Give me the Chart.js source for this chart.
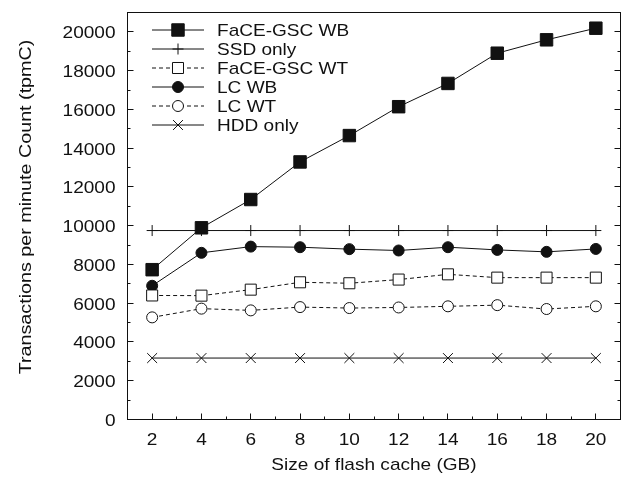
<!DOCTYPE html>
<html>
<head>
<meta charset="utf-8">
<title>tpmC vs flash cache size</title>
<script src="https://cdn.jsdelivr.net/npm/chart.js@4/dist/chart.umd.min.js"></script>
<style>
  html, body { margin: 0; padding: 0; background: #fff; }
  #wrap { width: 639px; height: 480px; }
</style>
</head>
<body>
<div id="wrap"><canvas id="tpmc-chart" width="639" height="480"></canvas></div>
<script>
// flash cache size in GB
const cacheSizes = [2, 4, 6, 8, 10, 12, 14, 16, 18, 20];

// throughput, tpmC
const faceGscWB = [7730, 9890, 11350, 13290, 14650, 16140, 17340, 18900, 19590, 20190];
const ssdOnly   = [9750, 9750, 9750, 9750, 9750, 9750, 9750, 9750, 9750, 9750];
const faceGscWT = [6400, 6390, 6700, 7080, 7030, 7220, 7490, 7320, 7320, 7320];
const lcWB      = [6900, 8600, 8920, 8890, 8790, 8720, 8890, 8750, 8650, 8800];
const lcWT      = [5270, 5720, 5630, 5800, 5750, 5780, 5840, 5900, 5700, 5840];
const hddOnly   = [3170, 3170, 3170, 3170, 3170, 3170, 3170, 3170, 3170, 3170];

const xTicks = [2, 4, 6, 8, 10, 12, 14, 16, 18, 20];
const yTicks = [0, 2000, 4000, 6000, 8000, 10000, 12000, 14000, 16000, 18000, 20000];

const ink = '#111';
const fontFamily = '"Liberation Sans", Arial, Helvetica, sans-serif';
const fontSize = 17;
const textStretch = 1.12;

function points(values) {
  return cacheSizes.map((x, i) => ({ x: x, y: values[i] }));
}

function series(label, values, style, radius, filled, dashed) {
  return {
    label: label,
    data: points(values),
    borderColor: ink,
    borderWidth: 1,
    borderDash: dashed ? [4, 3] : [],
    pointStyle: style,
    pointRadius: radius,
    pointHoverRadius: radius,
    pointBorderWidth: 1,
    pointBorderColor: ink,
    pointBackgroundColor: filled ? ink : '#fff',
    tension: 0,
    fill: false
  };
}

// horizontally widened text, gnuplot fonts run a bit wider than Arial
function wideText(ctx, str, x, y, align, stretch) {
  ctx.save();
  ctx.translate(x, y);
  ctx.scale(stretch || textStretch, 1);
  ctx.textAlign = align;
  ctx.textBaseline = 'alphabetic';
  ctx.fillText(str, 0, 0);
  ctx.restore();
}

function crisp(v) {
  return Math.round(v - 0.5) + 0.5;
}

// frame, inward ticks, tick labels and axis titles
const framePlugin = {
  id: 'frame',
  beforeDatasetsDraw(chart) {
    const ctx = chart.ctx;
    const a = chart.chartArea;
    const xs = chart.scales.x;
    const ys = chart.scales.y;
    ctx.save();
    ctx.strokeStyle = ink;
    ctx.lineWidth = 1;
    ctx.strokeRect(a.left, a.top, a.right - a.left, a.bottom - a.top);

    ctx.beginPath();
    yTicks.forEach((v, i) => {
      const y = crisp(ys.getPixelForValue(v));
      ctx.moveTo(a.left, y); ctx.lineTo(a.left + 6, y);
      ctx.moveTo(a.right, y); ctx.lineTo(a.right - 6, y);
      if (i < yTicks.length - 1) {
        const ym = crisp(ys.getPixelForValue((v + yTicks[i + 1]) / 2));
        ctx.moveTo(a.left, ym); ctx.lineTo(a.left + 3, ym);
        ctx.moveTo(a.right, ym); ctx.lineTo(a.right - 3, ym);
      }
    });
    xTicks.forEach((v, i) => {
      const x = crisp(xs.getPixelForValue(v));
      ctx.moveTo(x, a.bottom); ctx.lineTo(x, a.bottom - 6);
      if (i < xTicks.length - 1) {
        const xm = crisp(xs.getPixelForValue((v + xTicks[i + 1]) / 2));
        ctx.moveTo(xm, a.bottom); ctx.lineTo(xm, a.bottom - 3);
      }
    });
    ctx.stroke();

    ctx.fillStyle = ink;
    ctx.font = fontSize + 'px ' + fontFamily;
    yTicks.forEach(v => {
      wideText(ctx, String(v), a.left - 12, ys.getPixelForValue(v) + 6.5, 'right');
    });
    xTicks.forEach(v => {
      wideText(ctx, String(v), xs.getPixelForValue(v), a.bottom + 25.5, 'center');
    });

    wideText(ctx, 'Size of flash cache (GB)', (a.left + a.right) / 2, 470, 'center');

    ctx.save();
    ctx.translate(31, 207);
    ctx.rotate(-Math.PI / 2);
    wideText(ctx, 'Transactions per minute Count (tpmC)', 0, 0, 'center', 1.16);
    ctx.restore();
    ctx.restore();
  }
};

// key in the top-left corner with line sample and marker
const keyPlugin = {
  id: 'key',
  afterDatasetsDraw(chart) {
    const ctx = chart.ctx;
    ctx.save();
    chart.data.datasets.forEach((ds, i) => {
      const y = 30 + i * 19;
      ctx.strokeStyle = ink;
      ctx.lineWidth = 1;
      ctx.setLineDash(ds.borderDash);
      ctx.beginPath();
      ctx.moveTo(152, y);
      ctx.lineTo(204, y);
      ctx.stroke();
      ctx.setLineDash([]);
      ctx.fillStyle = ds.pointBackgroundColor;
      Chart.helpers.drawPoint(ctx, {
        pointStyle: ds.pointStyle,
        radius: ds.pointRadius,
        rotation: 0,
        borderWidth: 1
      }, 178, y);
      ctx.fillStyle = ink;
      ctx.font = fontSize + 'px ' + fontFamily;
      wideText(ctx, ds.label, 217, y + 6, 'left');
    });
    ctx.restore();
  }
};

new Chart(document.getElementById('tpmc-chart'), {
  type: 'line',
  data: {
    datasets: [
      series('FaCE-GSC WB', faceGscWB, 'rect', 8.8, true, false),
      series('SSD only', ssdOnly, 'cross', 5.5, false, false),
      series('FaCE-GSC WT', faceGscWT, 'rect', 7.8, false, true),
      series('LC WB', lcWB, 'circle', 5.5, true, false),
      series('LC WT', lcWT, 'circle', 5.5, false, true),
      series('HDD only', hddOnly, 'crossRot', 7, false, false)
    ]
  },
  options: {
    responsive: false,
    animation: false,
    devicePixelRatio: 1,
    layout: { padding: { left: 127.5, right: 18.5, top: 12.5, bottom: 60.5 } },
    scales: {
      x: { type: 'linear', min: 1, max: 21, display: false },
      y: { type: 'linear', min: 0, max: 21000, display: false }
    },
    plugins: {
      legend: { display: false },
      tooltip: { enabled: false }
    }
  },
  plugins: [framePlugin, keyPlugin]
});
</script>
</body>
</html>
